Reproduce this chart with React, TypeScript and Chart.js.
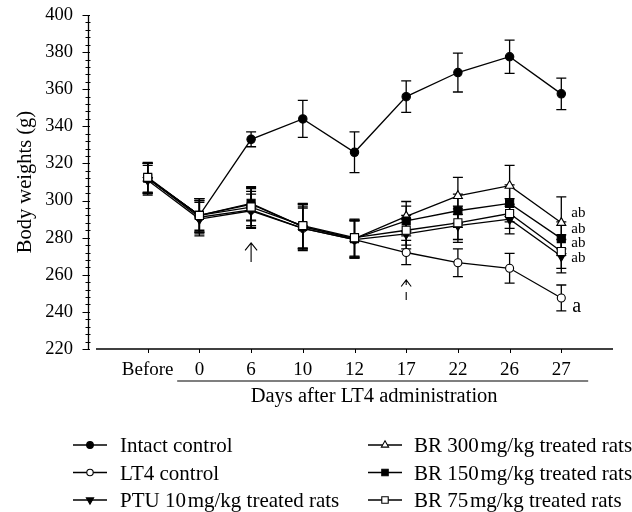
import React, { useEffect, useRef } from 'react';
import { Chart, registerables } from 'chart.js';

Chart.register(...registerables);

const FONT = "'Liberation Serif', 'Times New Roman', serif";

const categories = ['Before', '0', '6', '10', '12', '17', '22', '26', '27'];
const yTicks = [220, 240, 260, 280, 300, 320, 340, 360, 380, 400];

const intactControl = [312, 292, 333, 344, 326, 356, 369, 377.5, 357.5];
const intactControlErr = [8, 8, 4, 10, 11, 8.5, 10.5, 9, 8.5];
const lt4Control = [312, 291, 295, 285, 279, 272, 266.5, 263.5, 247.5];
const lt4ControlErr = [8, 9, 10, 12, 10, 6.5, 7.5, 8, 7];
const ptu10 = [311, 290, 294.5, 285, 279, 282, 286.5, 290, 270];
const ptu10Err = [8, 9, 9, 11, 10, 8, 9, 8, 9];
const br300 = [312, 292, 298, 286, 279.5, 291.5, 302.5, 308, 288];
const br300Err = [8, 9, 9, 12, 10, 8, 10, 11, 14];
const br150 = [312, 292, 298.5, 286, 279.5, 289, 294.5, 298.5, 279.5];
const br150Err = [8, 9, 9, 12, 10, 8, 9, 10, 9];
const br75 = [312.5, 292, 296.5, 286.5, 280, 284, 288, 293, 272.5];
const br75Err = [8, 9, 10, 12, 10, 8, 9, 8, 9];

const seriesNames = [
  'Intact control',
  'LT4 control',
  'PTU 10\u200Amg/kg treated rats',
  'BR 300\u200Amg/kg treated rats',
  'BR 150\u200Amg/kg treated rats',
  'BR 75\u200Amg/kg treated rats',
];

const abLabels = ['ab', 'ab', 'ab', 'ab'];
const abLabelValues = [293.2, 284.7, 277, 269.2];
const aLabel = 'a';
const aLabelValue = 243;

type Marker = { style: string; fill: string; rot: number; r: number };

const markers: Marker[] = [
  { style: 'circle', fill: '#000', rot: 0, r: 4.2 },
  { style: 'circle', fill: '#fff', rot: 0, r: 4.0 },
  { style: 'triangle', fill: '#000', rot: 180, r: 5.2 },
  { style: 'triangle', fill: '#fff', rot: 0, r: 5.2 },
  { style: 'rect', fill: '#000', rot: 0, r: 5.7 },
  { style: 'rect', fill: '#fff', rot: 0, r: 5.7 },
];

const values = [intactControl, lt4Control, ptu10, br300, br150, br75];
const errors = [intactControlErr, lt4ControlErr, ptu10Err, br300Err, br150Err, br75Err];
const drawOrder = [1, 5, 4, 3, 2, 0];

function drawMarker(ctx: CanvasRenderingContext2D, m: Marker, x: number, y: number, scale: number) {
  const r = m.r * scale;
  ctx.save();
  ctx.beginPath();
  if (m.style === 'circle') {
    ctx.arc(x, y, r, 0, Math.PI * 2);
  } else if (m.style === 'rect') {
    const s = r * Math.SQRT1_2;
    ctx.rect(x - s, y - s, 2 * s, 2 * s);
  } else {
    const rot = (m.rot * Math.PI) / 180;
    for (let k = 0; k < 3; k++) {
      const a = rot + (k * 2 * Math.PI) / 3;
      const px = x + Math.sin(a) * r;
      const py = y - Math.cos(a) * r;
      if (k === 0) ctx.moveTo(px, py);
      else ctx.lineTo(px, py);
    }
    ctx.closePath();
  }
  ctx.fillStyle = m.fill;
  ctx.fill();
  ctx.lineWidth = 1.1;
  ctx.strokeStyle = '#000';
  ctx.stroke();
  ctx.restore();
}

const customPlugin = {
  id: 'custom',
  beforeDatasetsDraw(chart: any) {
    const ctx = chart.ctx as CanvasRenderingContext2D;
    const xs = chart.scales.x;
    const ys = chart.scales.y;
    ctx.save();
    ctx.strokeStyle = '#000';
    ctx.lineWidth = 1.3;
    values.forEach((vals, s) => {
      vals.forEach((v, i) => {
        const e = errors[s][i];
        const x = xs.getPixelForValue(i);
        const y1 = ys.getPixelForValue(v + e);
        const y2 = ys.getPixelForValue(v - e);
        ctx.beginPath();
        ctx.moveTo(x, y1);
        ctx.lineTo(x, y2);
        ctx.moveTo(x - 5, y1);
        ctx.lineTo(x + 5, y1);
        ctx.moveTo(x - 5, y2);
        ctx.lineTo(x + 5, y2);
        ctx.stroke();
      });
    });
    ctx.restore();
  },
  afterDraw(chart: any) {
    const ctx = chart.ctx as CanvasRenderingContext2D;
    const xs = chart.scales.x;
    const ys = chart.scales.y;
    const area = chart.chartArea;
    ctx.save();
    ctx.strokeStyle = '#000';
    ctx.fillStyle = '#000';
    ctx.lineWidth = 1.3;

    // y axis
    const yAxisX = area.left - 7.5;
    ctx.beginPath();
    ctx.moveTo(yAxisX, ys.getPixelForValue(400));
    ctx.lineTo(yAxisX, ys.getPixelForValue(220));
    ctx.stroke();
    ctx.lineWidth = 1;
    for (let v = 220; v <= 400; v += 4) {
      const y = Math.round(ys.getPixelForValue(v)) + 0.5;
      const major = v % 20 === 0;
      ctx.beginPath();
      ctx.moveTo(yAxisX - (major ? 6 : 3), y);
      ctx.lineTo(yAxisX + (major ? 1.5 : 2), y);
      ctx.stroke();
    }

    // x axis
    ctx.lineWidth = 1.3;
    ctx.beginPath();
    ctx.moveTo(area.left, area.bottom);
    ctx.lineTo(area.right, area.bottom);
    ctx.stroke();
    ctx.lineWidth = 1;
    for (let i = 0; i < categories.length; i++) {
      const x = Math.round(xs.getPixelForValue(i)) + 0.5;
      ctx.beginPath();
      ctx.moveTo(x, area.bottom);
      ctx.lineTo(x, area.bottom + 4);
      ctx.stroke();
    }

    // underline and x title
    ctx.lineWidth = 1.2;
    ctx.beginPath();
    ctx.moveTo(xs.getPixelForValue(0.57), area.bottom + 32);
    ctx.lineTo(xs.getPixelForValue(8.52), area.bottom + 32);
    ctx.stroke();
    ctx.font = `20.5px ${FONT}`;
    ctx.textAlign = 'center';
    ctx.textBaseline = 'alphabetic';
    ctx.fillText('Days after LT4 administration', xs.getPixelForValue(4.38), area.bottom + 53);

    // solid arrow at day 6
    ctx.lineWidth = 1.1;
    const ax = xs.getPixelForValue(2);
    const aTop = ys.getPixelForValue(277.2);
    const aBot = ys.getPixelForValue(266.9);
    ctx.beginPath();
    ctx.moveTo(ax, aTop);
    ctx.lineTo(ax, aBot);
    ctx.moveTo(ax - 6, aTop + 7.5);
    ctx.lineTo(ax, aTop);
    ctx.lineTo(ax + 6, aTop + 7.5);
    ctx.stroke();

    // dashed arrow at day 17
    const dx = xs.getPixelForValue(5);
    const dTop = ys.getPixelForValue(257.2);
    ctx.beginPath();
    ctx.moveTo(dx - 5, dTop + 6.5);
    ctx.lineTo(dx, dTop);
    ctx.lineTo(dx + 5, dTop + 6.5);
    ctx.moveTo(dx, dTop);
    ctx.lineTo(dx, dTop + 5);
    ctx.moveTo(dx, dTop + 12);
    ctx.lineTo(dx, dTop + 20);
    ctx.stroke();

    // significance letters
    const lx = xs.getPixelForValue(8) + 10;
    ctx.textAlign = 'left';
    ctx.textBaseline = 'middle';
    ctx.font = `15px ${FONT}`;
    abLabels.forEach((t, k) => ctx.fillText(t, lx, ys.getPixelForValue(abLabelValues[k])));
    ctx.font = `20px ${FONT}`;
    ctx.fillText(aLabel, lx + 1, ys.getPixelForValue(aLabelValue));

    // legend
    const cols = [
      { x0: 73, x1: 107, tx: 120 },
      { x0: 368, x1: 402, tx: 414 },
    ];
    const rowY = [445, 472.5, 500];
    ctx.font = `21px ${FONT}`;
    ctx.textBaseline = 'alphabetic';
    seriesNames.forEach((name, k) => {
      const c = cols[Math.floor(k / 3)];
      const y = rowY[k % 3];
      ctx.lineWidth = 1.3;
      ctx.beginPath();
      ctx.moveTo(c.x0, y);
      ctx.lineTo(c.x1, y);
      ctx.stroke();
      drawMarker(ctx, markers[k], (c.x0 + c.x1) / 2, y, 0.8);
      ctx.fillStyle = '#000';
      ctx.fillText(name, c.tx, y + 7);
    });
    ctx.restore();
  },
};

export default function App() {
  const ref = useRef<HTMLCanvasElement>(null);
  useEffect(() => {
    const canvas = ref.current;
    if (!canvas) return;
    const datasets = values.map((vals, s) => ({
      label: seriesNames[s],
      data: vals.map((v, i) => ({ x: i, y: v })),
      borderColor: '#000',
      borderWidth: 1.3,
      backgroundColor: markers[s].fill,
      pointStyle: markers[s].style,
      pointRotation: markers[s].rot,
      pointRadius: markers[s].r,
      pointBackgroundColor: markers[s].fill,
      pointBorderColor: '#000',
      pointBorderWidth: 1.1,
      fill: false,
      tension: 0,
      order: drawOrder[s],
    }));
    const chart = new Chart(canvas, {
      type: 'line',
      data: { datasets },
      options: {
        responsive: false,
        animation: false,
        layout: { padding: { top: 15, right: 19, left: 0, bottom: 0 } },
        plugins: { legend: { display: false }, tooltip: { enabled: false } },
        scales: {
          x: {
            type: 'linear',
            min: -1,
            max: 9,
            afterFit: (s: any) => {
              s.height = 163;
              s.paddingLeft = 0;
              s.paddingRight = 0;
            },
            grid: { display: false, drawTicks: false },
            border: { display: false },
            ticks: {
              stepSize: 1,
              autoSkip: false,
              maxRotation: 0,
              padding: 10,
              color: '#000',
              font: { family: FONT, size: 19 },
              callback: (v: any) => (Number.isInteger(v) && categories[v] !== undefined ? categories[v] : ''),
            },
          },
          y: {
            type: 'linear',
            min: 220,
            max: 400,
            afterFit: (s: any) => {
              s.width = 96;
              s.paddingTop = 0;
              s.paddingBottom = 0;
            },
            afterBuildTicks: (s: any) => {
              s.ticks = yTicks.map((v) => ({ value: v }));
            },
            grid: { display: false, drawTicks: false },
            border: { display: false },
            ticks: {
              padding: 23,
              color: '#000',
              font: { family: FONT, size: 18.5 },
            },
            title: {
              display: true,
              text: 'Body weights (g)',
              color: '#000',
              font: { family: FONT, size: 20.5 },
              padding: { top: 13, bottom: 0 },
            },
          },
        },
      } as any,
      plugins: [customPlugin],
    });
    return () => chart.destroy();
  }, []);
  return (
    <div style={{ position: 'fixed', left: 0, top: 0, width: 632, height: 512, background: '#fff' }}>
      <canvas ref={ref} width={632} height={512} style={{ display: 'block', width: 632, height: 512 }} />
    </div>
  );
}
